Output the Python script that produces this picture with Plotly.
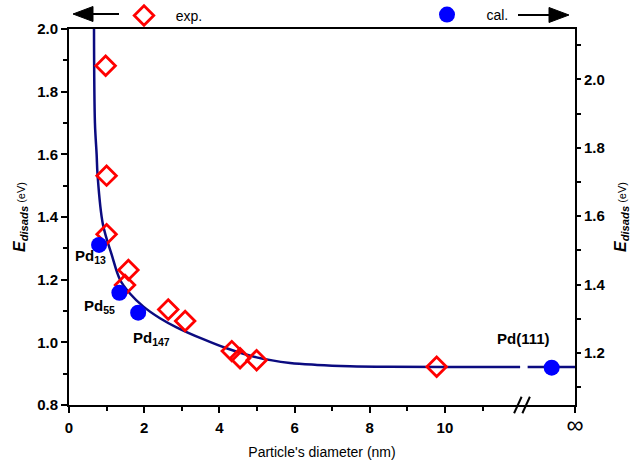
import plotly.graph_objects as go

# ---- data ----
exp_d = [0.975, 1.00, 1.00, 1.58, 1.49, 2.64, 3.09, 4.33, 4.55, 4.99, 9.78]
exp_E = [1.883, 1.532, 1.345, 1.231, 1.183, 1.105, 1.068, 0.972, 0.949, 0.943, 0.922]

cal_d = [0.80, 1.34, 1.84, 12.84]
cal_E = [1.516, 1.376, 1.318, 1.157]          # right axis
cal_labels = ["Pd<sub>13</sub>", "Pd<sub>55</sub>", "Pd<sub>147</sub>", "Pd(111)"]

fit_d = [0.665, 0.69, 0.735, 0.76, 0.90, 1.135, 1.36, 1.62, 1.98, 2.42, 2.86,
         3.57, 4.19, 4.99, 5.88, 6.60, 7.47, 8.50, 10.0, 12.0, None, 12.2, 13.46]
fit_E = [2.0, 1.70, 1.60, 1.534, 1.378, 1.280, 1.199, 1.156, 1.114, 1.077, 1.048,
         1.010, 0.981, 0.952, 0.934, 0.928, 0.924, 0.922, 0.921, 0.921, None, 0.921, 0.921]

x_ticks = [0, 2, 4, 6, 8, 10, 13.46]
x_ticktext = ["<b>0</b>", "<b>2</b>", "<b>4</b>", "<b>6</b>", "<b>8</b>", "<b>10</b>",
              "<span style='font-size:24px'>∞</span>"]
x_minor = [1, 3, 5, 7, 9, 11]
x_break = 12.08

FONT = "Liberation Sans, Arial, sans-serif"
W, H = 632, 462
L, R, T, B = 69, 57, 29, 57
PW, PH = W - L - R, H - T - B


def px(x):
    return (x - L) / PW


def py(y):
    return (H - B - y) / PH


fig = go.Figure()

fig.add_trace(go.Scatter(
    x=fit_d, y=fit_E, mode="lines", line=dict(color="#0b0b80", width=2.5),
    line_shape="spline", showlegend=False, connectgaps=False, hoverinfo="skip"))

fig.add_trace(go.Scatter(
    x=exp_d, y=exp_E, mode="markers", name="\u00a0\u00a0\u00a0exp.",
    marker=dict(symbol="diamond-open", size=15, color="#ff0000",
                line=dict(width=2.8, color="#ff0000")),
    legend="legend"))

fig.add_trace(go.Scatter(
    x=cal_d, y=cal_E, mode="markers", name="\u00a0\u00a0\u00a0\u00a0\u00a0cal.", yaxis="y2",
    marker=dict(symbol="circle", size=16, color="#0000ff"),
    legend="legend2"))

ytitle = ("<b><i>E</i></b><sub><b><i>disads</i></b></sub>"
          "<span style='font-size:11px'> (eV)</span>")

fig.update_layout(
    width=W, height=H,
    margin=dict(l=L, r=R, t=T, b=B, autoexpand=False),
    paper_bgcolor="white", plot_bgcolor="white",
    font=dict(family=FONT, size=13, color="black"),
    xaxis=dict(
        range=[0, 13.46], showgrid=False, zeroline=False,
        showline=True, linewidth=2, linecolor="black", mirror=True,
        tickmode="array", tickvals=x_ticks, ticktext=x_ticktext,
        ticks="outside", ticklen=6, tickwidth=2, tickcolor="black",
        tickfont=dict(size=15, family=FONT, color="black"),
        ticklabelstandoff=2,
        minor=dict(tickmode="array", tickvals=x_minor, ticks="outside",
                   ticklen=4, tickwidth=2, tickcolor="black"),
        title=dict(text="Particle's diameter (nm)", font=dict(size=14), standoff=10),
    ),
    yaxis=dict(
        range=[0.8, 2.0], showgrid=False, zeroline=False,
        showline=True, linewidth=2, linecolor="black",
        tickmode="linear", tick0=0.8, dtick=0.2, tickformat=".1f",
        ticks="outside", ticklen=6, tickwidth=2, tickcolor="black",
        tickfont=dict(size=15, family=FONT, color="black", weight="bold"),
        minor=dict(dtick=0.1, ticks="outside", ticklen=4, tickwidth=2, tickcolor="black"),
        title=dict(text=ytitle, font=dict(size=16), standoff=8),
    ),
    yaxis2=dict(
        range=[1.048, 2.147], overlaying="y", side="right",
        showgrid=False, zeroline=False,
        showline=True, linewidth=2, linecolor="black",
        tickmode="linear", tick0=1.2, dtick=0.2, tickformat=".1f",
        ticks="outside", ticklen=4, tickwidth=2, tickcolor="black",
        tickfont=dict(size=15, family=FONT, color="black", weight="bold"),
        minor=dict(dtick=0.1, ticks="outside", ticklen=4, tickwidth=2, tickcolor="black"),
        title=dict(text=ytitle, font=dict(size=16), standoff=10),
    ),
    legend=dict(x=px(124), y=py(16), xanchor="left", yanchor="middle",
                bgcolor="rgba(0,0,0,0)", font=dict(size=14), orientation="h"),
    legend2=dict(x=px(427), y=py(15), xanchor="left", yanchor="middle",
                 bgcolor="rgba(0,0,0,0)", font=dict(size=14), orientation="h"),
)


# arrows of the legend, drawn as shapes (shaft + filled head)
def arrow(tip_x, tail_x, yy):
    d = 1 if tail_x > tip_x else -1
    base = tip_x + d * 20
    fig.add_shape(type="line", xref="paper", yref="paper",
                  x0=px(base), x1=px(tail_x), y0=py(yy), y1=py(yy),
                  line=dict(color="black", width=2))
    path = "M {:.5f},{:.5f} L {:.5f},{:.5f} L {:.5f},{:.5f} Z".format(
        px(tip_x), py(yy), px(base), py(yy - 7.5), px(base), py(yy + 7.5))
    fig.add_shape(type="path", xref="paper", yref="paper", path=path,
                  fillcolor="black", line=dict(color="black", width=1))


arrow(73, 119, 14)
arrow(569, 518, 15)

# point labels
label_pos = [(0.58, 1.275), (0.80, 1.115), (2.20, 1.012), (12.1, 1.012)]
for (lx, ly), t in zip(label_pos, cal_labels):
    fig.add_annotation(x=lx, y=ly, xref="x", yref="y", text="<b>" + t + "</b>",
                       showarrow=False, font=dict(size=15, family=FONT))

# axis break marks
for dx in (-0.14, 0.08):
    fig.add_shape(type="line", xref="x", yref="paper",
                  x0=x_break + dx - 0.1, x1=x_break + dx + 0.1,
                  y0=-0.022, y1=0.022, line=dict(color="black", width=2))

fig.write_html("out.html", config={"displayModeBar": False},
               post_script="document.body.style.margin='0';")
